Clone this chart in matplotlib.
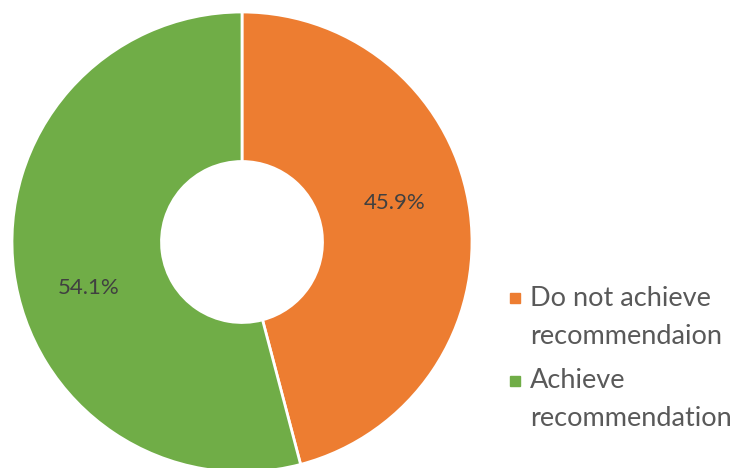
import numpy as np
import matplotlib.pyplot as plt
from matplotlib.patches import Rectangle

labels = ['Do not achieve\nrecommendaion', 'Achieve\nrecommendation']
values = [45.9, 54.1]
colors = ['#ED7D31', '#70AD47']

plt.rcParams['font.family'] = ['Lato', 'DejaVu Sans']

W, H = 739, 468
fig = plt.figure(figsize=(W / 100, H / 100), dpi=100)
# axes box in pixels: centre (242, 242), radius 230
ax = fig.add_axes([12 / W, -4 / H, 460 / W, 460 / H])

wedges, _ = ax.pie(values, colors=colors, startangle=90, counterclock=False,
                   radius=1, wedgeprops=dict(width=0.65, edgecolor='white', linewidth=2))
ax.set_xlim(-1, 1)
ax.set_ylim(-1, 1)
ax.set_aspect('equal')
ax.axis('off')

# percentage labels, a little off the wedge mid angle like the original
for w, v in zip(wedges, values):
    mid = np.deg2rad((w.theta1 + w.theta2) / 2 + 8)
    r = 0.69
    ax.text(r * np.cos(mid), r * np.sin(mid) - 0.015, f'{v:.1f}%', ha='center', va='center',
            fontsize=16, color='#404040')

# legend drawn by hand: square next to first line of each entry
first_line_y = [298, 381]
for w, lab, y in zip(wedges, labels, first_line_y):
    fig.patches.append(Rectangle((510 / W, 1 - (y + 5) / H), 10 / W, 10 / H,
                                 transform=fig.transFigure, color=w.get_facecolor()))
    fig.text(530 / W, 1 - (y + 19) / H, lab, ha='left', va='center', fontsize=19.5,
             color='#595959', linespacing=1.65)

plt.savefig('out.png', dpi=100)
